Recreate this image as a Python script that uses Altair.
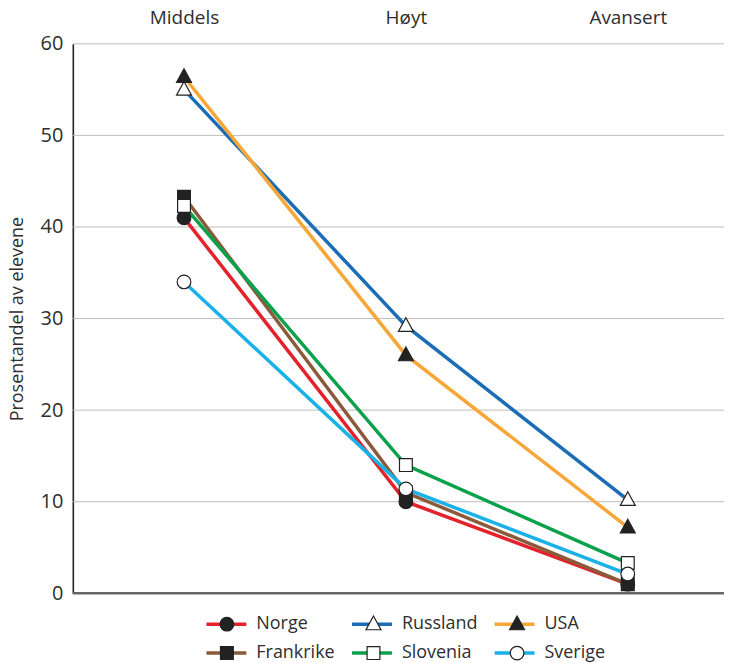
import altair as alt
import pandas as pd

# ---- data ----
levels = ["Middels", "Høyt", "Avansert"]
countries = ["Norge", "Russland", "USA", "Frankrike", "Slovenia", "Sverige"]
norge = [41.0, 10.0, 1.0]
russland = [55.0, 29.2, 10.2]
usa = [56.4, 26.0, 7.2]
frankrike = [43.3, 11.0, 1.0]
slovenia = [42.3, 14.0, 3.3]
sverige = [34.0, 11.4, 2.1]
series = [norge, russland, usa, frankrike, slovenia, sverige]

y_ticks = [0, 10, 20, 30, 40, 50, 60]

# ---- styles ----
line_colors = ["#e3222b", "#1b6db6", "#f7a737", "#8b5a3b", "#0aa14b", "#19b1e6"]
marker_fill = ["#222222", "#ffffff", "#222222", "#222222", "#ffffff", "#ffffff"]
marker_stroke = ["#222222"] * 6
_ext = "M-1,0L-1,0M1,0L1,0"
circle = _ext + "M-0.32,0A0.32,0.32 0 1,1 0.32,0A0.32,0.32 0 1,1 -0.32,0Z"
tri = _ext + "M0,-0.38L0.35,0.26L-0.35,0.26Z"
square = _ext + "M-0.3,-0.3H0.3V0.3H-0.3Z"
marker_shapes = [circle, tri, tri, square, square, circle]

FONT = "Open Sans"
TXT = "#2e2e2e"

rows = []
for i, (c, vals) in enumerate(zip(countries, series)):
    key = f"{i + 1}{c}"
    for lev, v in zip(levels, vals):
        rows.append({"k1": key, "k2": key, "level": lev, "value": v})
df = pd.DataFrame(rows)
grid_df = pd.DataFrame({"value": y_ticks[1:]})
zero_df = pd.DataFrame({"value": y_ticks[:1]})

x_enc = alt.X(
    "level:N",
    sort=levels,
    scale=alt.Scale(type="point", range=[111.5, 556.5], padding=0),
    axis=alt.Axis(orient="top", title=None, domain=False, ticks=False, grid=False,
                  labelFontSize=19, labelPadding=16, labelColor=TXT, labelAngle=0),
)
y_enc = alt.Y(
    "value:Q",
    scale=alt.Scale(domain=[0, 60], nice=False),
    axis=alt.Axis(values=y_ticks, title="Prosentandel av elevene", grid=False,
                  domainColor="#222222", domainWidth=1.6,
                  ticks=False, labelFontSize=20, labelPadding=10, labelColor=TXT,
                  titleFontSize=18, titleFontWeight="normal", titleColor=TXT, titlePadding=14),
)

common_leg = dict(
    orient="none", legendX=132, legendY=572, direction="horizontal", columns=3,
    title=None, labelFontSize=18, labelFont=FONT, labelOffset=8, columnPadding=15,
    rowPadding=9, clipHeight=20, padding=0, labelExpr="substring(datum.label, 1)",
)

line_leg = alt.Legend(symbolType="M-1,0H1", symbolSize=1600, symbolStrokeWidth=3.5,
                      labelColor=TXT, **common_leg)
marker_leg = alt.Legend(
    symbolSize=1832, symbolStrokeWidth=1.2, symbolStrokeColor="#222222",
    symbolOpacity=1, labelOpacity=0, labelColor=TXT, **common_leg,
)

grid = alt.Chart(grid_df).mark_rule(color="#bdbdbd", strokeWidth=1).encode(y=y_enc)
zero_rule = alt.Chart(zero_df).mark_rule(color="#666666", strokeWidth=2.5).encode(y=y_enc)

base = alt.Chart(df)

lines = base.mark_line(strokeWidth=3.5).encode(
    x=x_enc, y=y_enc,
    color=alt.Color("k1:N", scale=alt.Scale(range=line_colors), legend=line_leg),
)

points = base.mark_point(filled=True, size=1832, strokeWidth=1.2, opacity=1).encode(
    x=x_enc, y=y_enc,
    shape=alt.Shape("k2:N", scale=alt.Scale(range=marker_shapes), legend=marker_leg),
    fill=alt.Fill("k2:N", scale=alt.Scale(range=marker_fill), legend=marker_leg),
    stroke=alt.Stroke("k2:N", scale=alt.Scale(range=marker_stroke), legend=marker_leg),
)

chart = alt.layer(grid, zero_rule, lines, points).properties(
    width=653, height=551, padding={"left": 0, "top": 0, "right": 0, "bottom": 0},
).configure(font=FONT).configure_view(stroke=None)

chart.save("out.html", embed_options={"renderer": "svg", "actions": False})
